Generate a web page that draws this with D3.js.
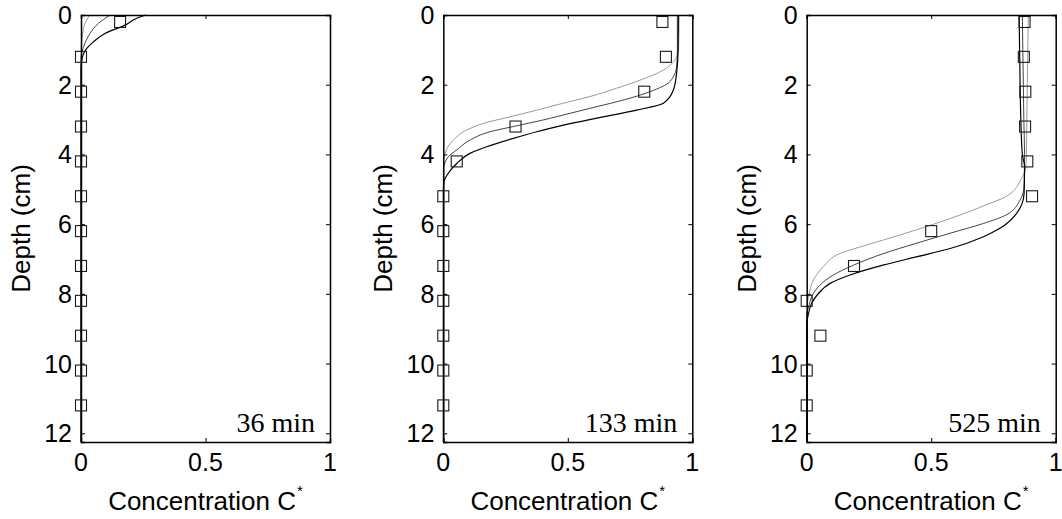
<!DOCTYPE html>
<html>
<head>
<meta charset="utf-8">
<script src="https://cdn.jsdelivr.net/npm/d3@7"></script>
<style>
  html, body { margin: 0; padding: 0; background: #fff; }
  svg { display: block; }
</style>
</head>
<body>
<svg id="chart" width="1062" height="519"></svg>
<script>
// ---------------- DATA ----------------
const panelTitles = ["36 min", "133 min", "525 min"];
const xTickValues = [0, 0.5, 1];
const xTickLabels = ["0", "0.5", "1"];
const yTickValues = [0, 2, 4, 6, 8, 10, 12];
const yTickLabels = ["0", "2", "4", "6", "8", "10", "12"];
const xLabel = "Concentration C";
const yLabel = "Depth (cm)";

// measured points (squares): depths and concentrations
const markerDepths = [0.2, 1.2, 2.2, 3.2, 4.2, 5.2, 6.2, 7.2, 8.2, 9.2, 10.2, 11.2];
const markers36  = [0.157, 0, 0, 0, 0, 0, 0, 0, 0, 0, 0, 0];
const markers133 = [0.88, 0.894, 0.807, 0.29, 0.054, 0, 0, 0, 0, 0, 0, 0];
const markers525 = [0.875, 0.872, 0.878, 0.877, 0.886, 0.905, 0.50, 0.19, 0, 0.055, 0, 0];

// simulated profiles: [depth, concentration]
const light36  = [[0, 0.036], [0.24, 0.016], [0.53, 0.007], [0.81, 0.002], [1.0, 0]];
const middle36 = [[0, 0.117], [0.24, 0.07], [0.53, 0.036], [0.81, 0.016], [1.05, 0.004], [1.2, 0], [12.25, 0]];
const black36  = [[0, 0.26], [0.1, 0.222], [0.29, 0.177], [0.53, 0.096], [0.77, 0.05], [0.96, 0.023], [1.15, 0.008], [1.35, 0.002], [1.6, 0], [12.25, 0]];

const light133  = [[0, 0.947], [1.0, 0.945], [1.29, 0.93], [1.58, 0.884], [1.87, 0.79], [2.10, 0.696], [2.34, 0.589], [2.53, 0.482], [2.73, 0.375], [2.92, 0.268], [3.11, 0.161], [3.30, 0.094], [3.59, 0.040], [3.97, 0.007], [4.2, 0]];
const middle133 = [[0, 0.94], [1.0, 0.94], [1.48, 0.937], [1.91, 0.91], [2.20, 0.83], [2.44, 0.723], [2.63, 0.616], [2.82, 0.509], [3.01, 0.402], [3.20, 0.281], [3.35, 0.187], [3.59, 0.107], [3.87, 0.054], [4.07, 0.020], [4.45, 0], [12.25, 0]];
const black133  = [[0, 0.944], [1.0, 0.943], [1.67, 0.937], [2.15, 0.924], [2.53, 0.884], [2.73, 0.776], [2.96, 0.616], [3.16, 0.482], [3.35, 0.375], [3.54, 0.281], [3.78, 0.174], [3.97, 0.107], [4.26, 0.054], [4.54, 0.020], [4.78, 0.003], [5.0, 0], [12.25, 0]];

const light525  = [[0, 0.89], [1, 0.888], [2, 0.886], [3, 0.884], [4, 0.882], [4.35, 0.88], [4.69, 0.863], [5.21, 0.80], [5.45, 0.72], [5.74, 0.615], [6.07, 0.48], [6.31, 0.375], [6.6, 0.24], [6.84, 0.134], [7.22, 0.067], [7.6, 0.027], [7.99, 0.01], [8.37, 0]];
const middle525 = [[0, 0.866], [1, 0.868], [2, 0.87], [3, 0.872], [4, 0.875], [4.93, 0.873], [5.31, 0.857], [5.74, 0.80], [5.98, 0.71], [6.26, 0.576], [6.55, 0.44], [6.84, 0.31], [7.17, 0.19], [7.46, 0.107], [7.75, 0.053], [8.08, 0.02], [8.37, 0.008], [8.6, 0], [12.25, 0]];
const black525  = [[0, 0.853], [1, 0.855], [2, 0.857], [3, 0.86], [4, 0.866], [4.35, 0.875], [5.12, 0.873], [5.69, 0.843], [6.12, 0.776], [6.36, 0.71], [6.7, 0.576], [6.94, 0.44], [7.17, 0.31], [7.46, 0.174], [7.7, 0.094], [7.99, 0.047], [8.27, 0.02], [8.6, 0.006], [8.9, 0], [12.25, 0]];

const panelMarkers = [markers36, markers133, markers525];
const panelCurves = [
  [light36, middle36, black36],
  [light133, middle133, black133],
  [light525, middle525, black525]
];

// ---------------- LAYOUT ----------------
const panelLefts = [81, 443.3, 806.7];
const plotW = 249, plotTop = 15, plotH = 427;
const curveStyles = [
  { stroke: "#9a9a9a", width: 1 },
  { stroke: "#444", width: 1 },
  { stroke: "#000", width: 1.2 }
];
const sansFont = "'Liberation Sans', Arial, Helvetica, sans-serif";
const serifFont = "'Liberation Serif', 'Times New Roman', serif";

const svg = d3.select("#chart");

panelLefts.forEach((left, i) => {
  const x = d3.scaleLinear().domain([0, 1]).range([0, plotW]);
  const y = d3.scaleLinear().domain([0, 12.25]).range([0, plotH]);
  const g = svg.append("g").attr("transform", `translate(${left},${plotTop})`);

  const clip = "clip" + i;
  g.append("clipPath").attr("id", clip)
    .append("rect").attr("x", -1).attr("y", -1).attr("width", plotW + 2).attr("height", plotH + 2);

  // curves
  const line = d3.line()
    .x(d => x(d[1]))
    .y(d => y(d[0]))
    .curve(d3.curveMonotoneY);
  const cg = g.append("g").attr("clip-path", `url(#${clip})`);
  panelCurves[i].forEach((c, k) => {
    cg.append("path")
      .attr("d", line(c))
      .attr("fill", "none")
      .attr("stroke", curveStyles[k].stroke)
      .attr("stroke-width", curveStyles[k].width);
  });

  // markers
  const s = 11;
  g.selectAll("rect.mk")
    .data(markerDepths.map((dpt, j) => [dpt, panelMarkers[i][j]]))
    .enter().append("rect")
    .attr("class", "mk")
    .attr("x", d => x(d[1]) - s / 2)
    .attr("y", d => y(d[0]) - s / 2)
    .attr("width", s).attr("height", s)
    .attr("fill", "none")
    .attr("stroke", "#1a1a1a")
    .attr("stroke-width", 1.1);

  // axes (inward ticks, box)
  const tickLen = 4;
  const axB = d3.axisBottom(x).tickValues(xTickValues).tickSize(-tickLen).tickFormat("");
  const axT = d3.axisTop(x).tickValues(xTickValues).tickSize(-tickLen).tickFormat("");
  const axL = d3.axisLeft(y).tickValues(yTickValues).tickSize(-tickLen).tickFormat("");
  const axR = d3.axisRight(y).tickValues(yTickValues).tickSize(-tickLen).tickFormat("");
  const styleAxis = sel => {
    sel.select(".domain").attr("stroke", "#000").attr("stroke-width", 1.5);
    sel.selectAll(".tick line").attr("stroke", "#000").attr("stroke-width", 1);
  };
  g.append("g").attr("transform", `translate(0,${plotH})`).call(axB).call(styleAxis);
  g.append("g").call(axT).call(styleAxis);
  g.append("g").call(axL).call(styleAxis);
  g.append("g").attr("transform", `translate(${plotW},0)`).call(axR).call(styleAxis);

  // tick labels
  g.selectAll("text.xt").data(xTickValues).enter().append("text")
    .attr("x", d => x(d)).attr("y", plotH + 29)
    .attr("text-anchor", "middle")
    .attr("font-family", sansFont).attr("font-size", 25).attr("fill", "#000")
    .text((d, j) => xTickLabels[j]);
  g.selectAll("text.yt").data(yTickValues).enter().append("text")
    .attr("x", -9).attr("y", d => y(d)).attr("dy", "0.36em")
    .attr("text-anchor", "end")
    .attr("font-family", sansFont).attr("font-size", 25).attr("fill", "#000")
    .text((d, j) => yTickLabels[j]);

  // axis labels
  const xl = g.append("text")
    .attr("x", plotW / 2).attr("y", plotH + 68)
    .attr("text-anchor", "middle")
    .attr("font-family", sansFont).attr("font-size", 26).attr("fill", "#000");
  xl.append("tspan").text(xLabel);
  xl.append("tspan").attr("font-size", 15).attr("dy", -14).attr("dx", 1).text("*");

  g.append("text")
    .attr("transform", `translate(-51,${plotH / 2}) rotate(-90)`)
    .attr("text-anchor", "middle")
    .attr("font-family", sansFont).attr("font-size", 26).attr("fill", "#000")
    .text(yLabel);

  // time annotation
  g.append("text")
    .attr("x", plotW - 15).attr("y", plotH - 10)
    .attr("text-anchor", "end")
    .attr("font-family", serifFont).attr("font-size", 28).attr("fill", "#000")
    .text(panelTitles[i]);
});
</script>
</body>
</html>
